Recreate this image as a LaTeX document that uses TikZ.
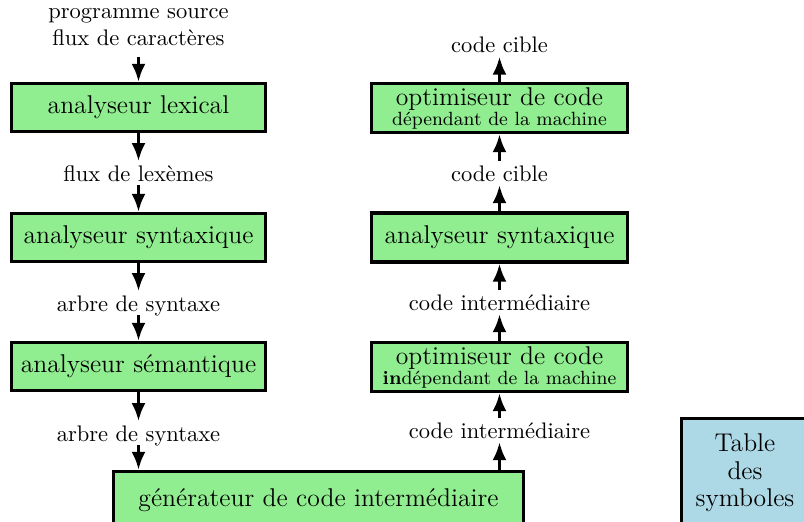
\documentclass[tikz,border=0pt]{standalone}
\usetikzlibrary{arrows.meta}
\definecolor{boxgreen}{HTML}{90EE90}
\definecolor{boxblue}{HTML}{ADD8E6}
\begin{document}
\begin{tikzpicture}[x=0.4444pt,y=-0.4444pt,
  stage/.style={draw, line width=1.4pt, fill=boxgreen, inner sep=0pt,
    align=center, font=\fontsize{11.4}{13.7}\selectfont},
  leftbox/.style={stage, minimum width={254*0.4444pt}, minimum height={48*0.4444pt}},
  rightbox/.style={stage, minimum width={256*0.4444pt}, minimum height={49*0.4444pt}},
  twoline/.style={font=\fontsize{11.4}{8.9}\selectfont},
  lbl/.style={inner xsep=1pt, inner ysep=1.6pt, text height=7pt, text depth=0pt, anchor=base},
  flow/.style={line width=1.5pt, -{Latex[length=8pt,width=6.2pt]}}]
\useasboundingbox (0,0) rectangle (804,521);
\clip (0,0) rectangle (804,521);

% analysis phases (left column)
\node[leftbox] (lex) at (138.5,107.5) {analyseur lexical};
\node[leftbox] (syn) at (138.5,237.5) {analyseur syntaxique};
\node[leftbox] (sem) at (138.5,366.5) {analyseur s\'emantique};

% intermediate code generation
\node[stage, minimum width={410*0.4444pt}, minimum height={58*0.4444pt}] (gen) at (318.5,500.5)
  {g\'en\'erateur de code interm\'ediaire};

% synthesis phases (right column)
\node[rightbox, twoline] (opti) at (499.5,367)
  {optimiseur de code\\{\fontsize{8.5}{8.9}\selectfont\textbf{in}d\'ependant de la machine}};
\node[rightbox] (synr) at (499.5,237.5) {analyseur syntaxique};
\node[rightbox, twoline] (optd) at (499.5,108)
  {optimiseur de code\\{\fontsize{8.5}{8.9}\selectfont d\'ependant de la machine}};

% symbol table
\node[draw, line width=1.4pt, fill=boxblue, minimum width={127*0.4444pt},
  minimum height={109*0.4444pt}, align=center, font=\fontsize{11.4}{12.2}\selectfont]
  (tds) at (745,473) {Table\\des\\symboles};

% data between the phases
\node[align=center, inner sep=4.5pt, anchor=south] (l0) at (138.5,56.7)
  {programme source\\flux de caract\`eres};
\node[lbl] (l1) at (138.5,181) {flux de lex\`emes};
\node[lbl] (l2) at (138.5,311) {arbre de syntaxe};
\node[lbl] (l3) at (138.5,441) {arbre de syntaxe};
\node[lbl] (l4) at (499.5,438) {code interm\'ediaire};
\node[lbl] (l5) at (499.5,310) {code interm\'ediaire};
\node[lbl] (l6) at (499.5,181) {code cible};
\node[lbl] (l7) at (499.5,52.5) {code cible};

% connectors
\draw[flow] (l0) -- (lex);
\draw[flow] (lex) -- (l1);
\draw[flow] (l1) -- (syn);
\draw[flow] (syn) -- (l2);
\draw[flow] (l2) -- (sem);
\draw[flow] (sem) -- (l3);
\draw[flow] (l3) -- (l3 |- gen.north);
\draw[flow] (gen.north -| l4) -- (l4);
\draw[flow] (l4) -- (opti);
\draw[flow] (opti) -- (l5);
\draw[flow] (l5) -- (synr);
\draw[flow] (synr) -- (l6);
\draw[flow] (l6) -- (optd);
\draw[flow] (optd) -- (l7);
\end{tikzpicture}
\end{document}
